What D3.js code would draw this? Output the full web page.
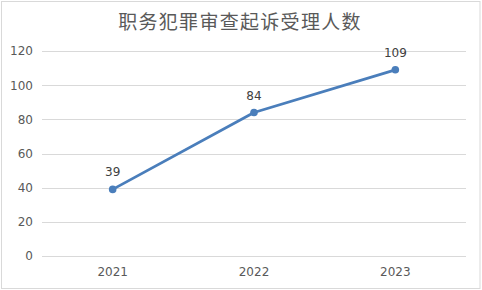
<!DOCTYPE html>
<html>
<head>
<meta charset="utf-8">
<script src="https://cdn.jsdelivr.net/npm/d3@7"></script>
<style>
  html, body { margin: 0; padding: 0; background: #fff; }
  text { font-family: "DejaVu Sans", "Noto Sans CJK SC", sans-serif; }
</style>
</head>
<body>
<div id="app"></div>
<script>
// 职务犯罪审查起诉受理人数, line chart

const title = "职务犯罪审查起诉受理人数";
const years = ["2021", "2022", "2023"];
const counts = [39, 84, 109];
const yTicks = [0, 20, 40, 60, 80, 100, 120];

const dimensions = {
  width: 482,
  height: 290,
  margin: { top: 51, right: 16, bottom: 34, left: 42 }
};
dimensions.boundedWidth =
  dimensions.width - dimensions.margin.left - dimensions.margin.right;
dimensions.boundedHeight =
  dimensions.height - dimensions.margin.top - dimensions.margin.bottom;

const wrapper = d3
  .select("#app")
  .append("svg")
  .attr("width", dimensions.width)
  .attr("height", dimensions.height);

// outer frame
wrapper
  .append("rect")
  .attr("x", 1.5)
  .attr("y", 1.5)
  .attr("width", dimensions.width - 3.5)
  .attr("height", dimensions.height - 3)
  .attr("fill", "#fff")
  .attr("stroke", "#d9d9d9");

wrapper
  .append("text")
  .attr("x", 240)
  .attr("y", 29)
  .attr("text-anchor", "middle")
  .attr("fill", "#595959")
  .style("font-size", "19px")
  .style("font-family", "'Noto Sans CJK SC', sans-serif")
  .style("letter-spacing", "1.3px")
  .text(title);

const bounds = wrapper
  .append("g")
  .attr("transform", `translate(${dimensions.margin.left},${dimensions.margin.top})`);

const xScale = d3
  .scaleBand()
  .domain(years)
  .range([0, dimensions.boundedWidth]);

const yScale = d3
  .scaleLinear()
  .domain([0, 120])
  .range([dimensions.boundedHeight, 0]);

// grid
bounds
  .append("g")
  .selectAll("line")
  .data(yTicks)
  .join("line")
  .attr("x1", 0)
  .attr("x2", dimensions.boundedWidth)
  .attr("y1", (d) => Math.round(yScale(d)) + 0.5)
  .attr("y2", (d) => Math.round(yScale(d)) + 0.5)
  .attr("stroke", "#d9d9d9");

// y axis
const yAxis = bounds
  .append("g")
  .call(d3.axisLeft(yScale).tickValues(yTicks).tickSize(0).tickPadding(9));
yAxis.select(".domain").remove();
yAxis
  .selectAll("text")
  .attr("fill", "#595959")
  .style("font-size", "12px");

// x axis
const xAxis = bounds
  .append("g")
  .attr("transform", `translate(0,${dimensions.boundedHeight})`)
  .call(d3.axisBottom(xScale).tickSize(0).tickPadding(11));
xAxis.select(".domain").remove();
xAxis
  .selectAll("text")
  .attr("fill", "#595959")
  .style("font-size", "12px");

const xAccessor = (d, i) => xScale(years[i]) + xScale.bandwidth() / 2;
const yAccessor = (d) => yScale(d);

const line = d3.line().x(xAccessor).y(yAccessor);

bounds
  .append("path")
  .datum(counts)
  .attr("d", line)
  .attr("fill", "none")
  .attr("stroke", "#4a7ebb")
  .attr("stroke-width", 2.8)
  .attr("stroke-linejoin", "round");

bounds
  .append("g")
  .selectAll("circle")
  .data(counts)
  .join("circle")
  .attr("cx", xAccessor)
  .attr("cy", yAccessor)
  .attr("r", 3.8)
  .attr("fill", "#4a7ebb");

// data labels
bounds
  .append("g")
  .selectAll("text")
  .data(counts)
  .join("text")
  .attr("x", xAccessor)
  .attr("y", (d) => yAccessor(d) - 13)
  .attr("text-anchor", "middle")
  .attr("fill", "#404040")
  .style("font-size", "12px")
  .text((d) => d);
</script>
</body>
</html>
